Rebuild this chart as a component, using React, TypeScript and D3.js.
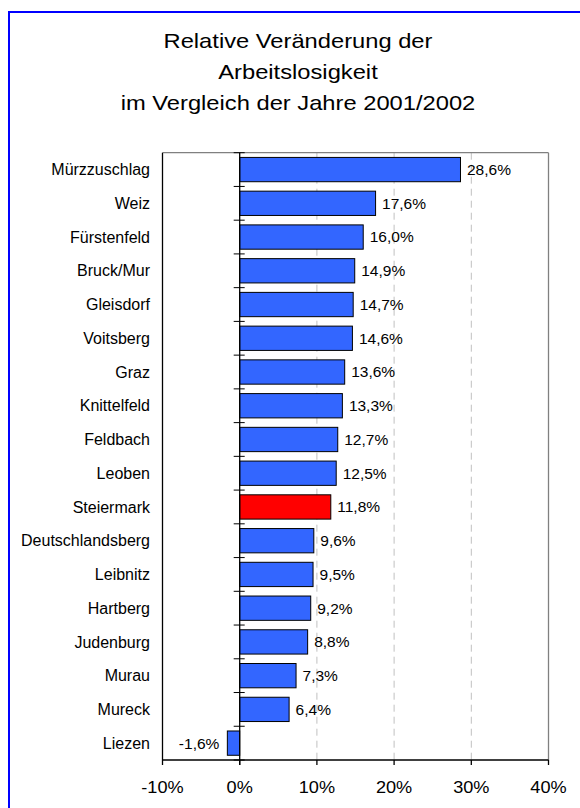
import React from "react";
import * as d3 from "d3";

const categories = [
  "Mürzzuschlag", "Weiz", "Fürstenfeld", "Bruck/Mur", "Gleisdorf", "Voitsberg",
  "Graz", "Knittelfeld", "Feldbach", "Leoben", "Steiermark", "Deutschlandsberg",
  "Leibnitz", "Hartberg", "Judenburg", "Murau", "Mureck", "Liezen",
];
const values = [28.6, 17.6, 16.0, 14.9, 14.7, 14.6, 13.6, 13.3, 12.7, 12.5, 11.8, 9.6, 9.5, 9.2, 8.8, 7.3, 6.4, -1.6];
const highlight = ["Steiermark"];
const xTicks = [-10, 0, 10, 20, 30, 40];
const titleLines = ["Relative Veränderung der", "Arbeitslosigkeit", "im Vergleich der Jahre 2001/2002"];

const W = 580, H = 808;
const left = 162.5, right = 548.5, top = 152.7, bottom = 760;
const font = "'Liberation Sans', Arial, sans-serif";

export default function App() {
  const x = d3.scaleLinear().domain([-10, 40]).range([left, right]);
  const y = d3.scaleBand<string>().domain(categories).range([top, bottom]).paddingInner(0.28).paddingOuter(0.14);
  const step = y.step();
  const fmt = (v: number) => d3.format(".1f")(v).replace(".", ",").replace("\u2212", "-") + "%";
  const boundaries = d3.range(categories.length + 1).map((i) => top + i * step);

  return (
    <svg width={W} height={H} style={{ position: "absolute", left: 0, top: 0 }} fontFamily={font}>
      <rect x={0} y={0} width={W} height={H} fill="#fff" />
      <path d="M9,830 V12 H600" fill="none" stroke="#0000FF" strokeWidth={2} />
      {titleLines.map((t, i) => (
        <text key={i} transform={`translate(298,${48 + i * 31}) scale(1.13,1)`} textAnchor="middle" fontSize={21} fill="#000">{t}</text>
      ))}
      {[10, 20, 30].map((t) => (
        <line key={t} x1={x(t)} x2={x(t)} y1={top} y2={bottom} stroke="#c0c0c0" strokeDasharray="7,5" strokeWidth={1} />
      ))}
      <line x1={left} x2={right} y1={top} y2={top} stroke="#808080" strokeWidth={1.3} />
      <line x1={right} x2={right} y1={top} y2={bottom} stroke="#808080" strokeWidth={1.3} />
      <line x1={left} x2={left} y1={top} y2={bottom} stroke="#000" strokeWidth={1.3} />
      {categories.map((c, i) => {
        const v = values[i];
        const x0 = x(Math.min(0, v));
        const x1 = x(Math.max(0, v));
        return (
          <rect key={c} x={x0} y={y(c)} width={x1 - x0} height={y.bandwidth()}
            fill={highlight.includes(c) ? "#FF0000" : "#3366FF"} stroke="#000" strokeWidth={1} />
        );
      })}
      <line x1={x(0)} x2={x(0)} y1={top} y2={bottom + 5} stroke="#000" strokeWidth={1.3} />
      {boundaries.map((b, i) => (
        <line key={i} x1={x(0) - 6} x2={x(0) + 5} y1={b} y2={b} stroke="#000" strokeWidth={1} />
      ))}
      <line x1={left} x2={right} y1={bottom} y2={bottom} stroke="#000" strokeWidth={1.3} />
      {xTicks.map((t) => (
        <g key={t}>
          <line x1={x(t)} x2={x(t)} y1={bottom} y2={bottom + 5} stroke="#000" strokeWidth={1.3} />
          <text transform={`translate(${x(t)},793) scale(1.1,1)`} textAnchor="middle" fontSize={16.5} fill="#000">{t}%</text>
        </g>
      ))}
      {categories.map((c) => (
        <text key={c} x={left - 12.5} y={(y(c) as number) + y.bandwidth() / 2} dy="0.35em" textAnchor="end" fontSize={16} fill="#000">{c}</text>
      ))}
      {categories.map((c, i) => {
        const v = values[i];
        const neg = v < 0;
        return (
          <text key={c} x={neg ? x(v) - 8 : x(v) + 6.5} y={(y(c) as number) + y.bandwidth() / 2} dy="0.35em"
            textAnchor={neg ? "end" : "start"} fontSize={15.5} fill="#000">{fmt(v)}</text>
        );
      })}
    </svg>
  );
}
